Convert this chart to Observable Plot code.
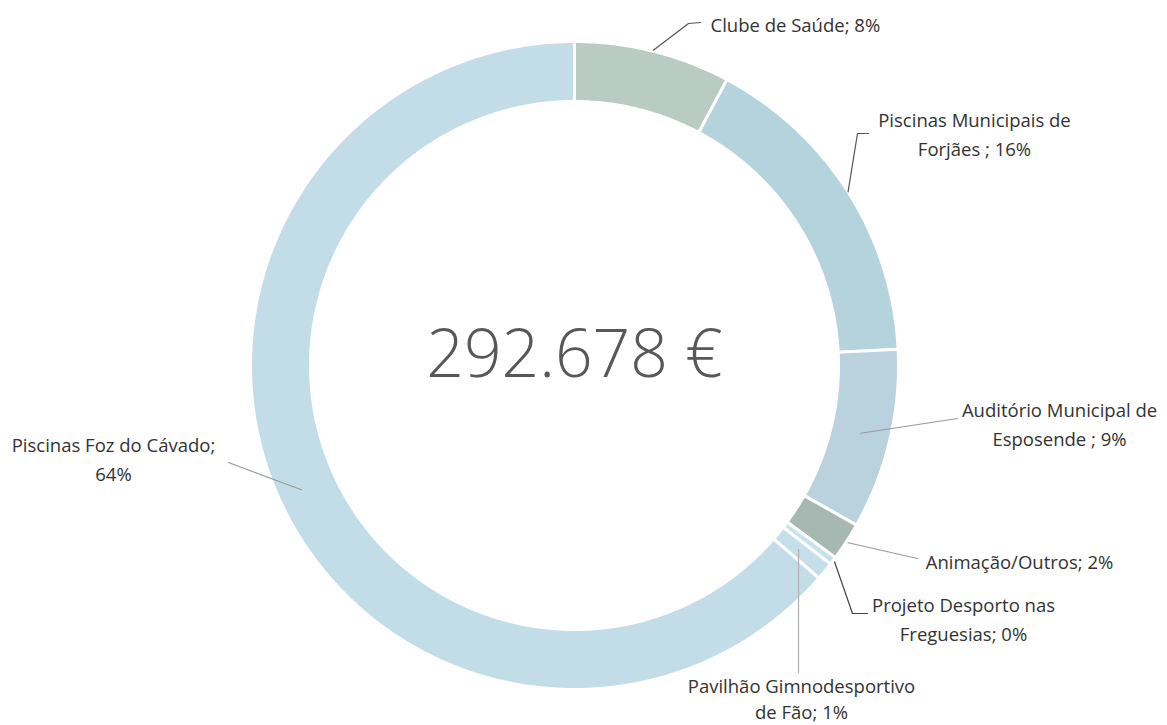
<!DOCTYPE html>
<html>
<head>
<meta charset="utf-8">
<script src="https://cdn.jsdelivr.net/npm/d3@7"></script>
<script src="https://cdn.jsdelivr.net/npm/@observablehq/plot@0.6"></script>
<style>
  html, body { margin: 0; padding: 0; background: #ffffff; }
  #chart svg { display: block; }
</style>
</head>
<body>
<div id="chart"></div>
<script>
// ---- data ----
const categories = [
  "Clube de Saúde",
  "Piscinas Municipais de Forjães",
  "Auditório Municipal de Esposende",
  "Animação/Outros",
  "Projeto Desporto nas Freguesias",
  "Pavilhão Gimnodesportivo de Fão",
  "Piscinas Foz do Cávado"
];
const shares = [7.8, 16.4, 9.0, 1.9, 0.4, 0.9, 63.6]; // percent of total
const labelTexts = [
  "Clube de Saúde; 8%",
  "Piscinas Municipais de\nForjães ; 16%",
  "Auditório Municipal de\nEsposende ; 9%",
  "Animação/Outros; 2%",
  "Projeto Desporto nas\nFreguesias; 0%",
  "Pavilhão Gimnodesportivo\nde Fão; 1%",
  "Piscinas Foz do Cávado;\n64%"
];
const totalLabel = "292.678 €";
const sliceColors = ["#b9ccc4", "#b4d3dc", "#b9d2dd", "#a6b8b1", "#c8e2ec", "#c4dfe9", "#c2dde8"];

// ---- layout (styling / placement, not data) ----
const W = 1167, H = 725;
const CX = 574, CY = 365;          // ring centre in pixels
const R_OUT = 324, R_IN = 264;
const FS = 18.5;
const labelLayout = [
  {x: 710, y: 22, anchor: "start", rStart: 325, path: [[688, 23], [700, 22]], stroke: "#555", lh: 1.55},
  {x: 974, y: 132, anchor: "middle", rStart: 324, path: [[857, 133], [868, 133]], stroke: "#555", lh: 1.55},
  {x: 1059, y: 422, anchor: "middle", rStart: 294, path: [[957, 418]], stroke: "#9a9a9a", lh: 1.55},
  {x: 1019, y: 559, anchor: "middle", rStart: 326, path: [[917, 558]], stroke: "#9a9a9a", lh: 1.55},
  {x: 963, y: 617, anchor: "middle", rStart: 326, path: [[852, 613], [867, 613]], stroke: "#444", lh: 1.55},
  {x: 801, y: 697, anchor: "middle", rStart: 290, path: [[800, 672]], stroke: "#b0b0b0", vertical: true, lh: 1.4},
  {x: 113, y: 457, anchor: "middle", rStart: 300, path: [[228, 462]], stroke: "#9a9a9a", lh: 1.55}
];

// pixel -> data coordinates (1 unit = 1 px, y up, centre at 0,0)
const px = (x) => x - CX;
const py = (y) => CY - y;

// ---- build slice polygons ----
const cum = d3.cumsum(shares);
const slicePts = [];
const leaders = [];
const labels = [];
categories.forEach((cat, i) => {
  const a0 = ((cum[i] - shares[i]) / 100) * 2 * Math.PI;
  const a1 = (cum[i] / 100) * 2 * Math.PI;
  const n = Math.max(4, Math.ceil((a1 - a0) / 0.01));
  const pts = [];
  for (let k = 0; k <= n; k++) {
    const a = a0 + (a1 - a0) * k / n;
    pts.push({cat, x: R_OUT * Math.sin(a), y: R_OUT * Math.cos(a)});
  }
  for (let k = n; k >= 0; k--) {
    const a = a0 + (a1 - a0) * k / n;
    pts.push({cat, x: R_IN * Math.sin(a), y: R_IN * Math.cos(a)});
  }
  pts.push({...pts[0]});
  slicePts.push(...pts);

  const L = labelLayout[i];
  const am = (a0 + a1) / 2;
  const sx = L.rStart * Math.sin(am), sy = L.rStart * Math.cos(am);
  const line = [{id: i, x: sx, y: sy}];
  L.path.forEach(([x, y]) => line.push({id: i, x: L.vertical ? sx : px(x), y: py(y)}));
  leaders.push(...line.map(d => ({...d, stroke: L.stroke})));
  labels.push({x: px(L.x), y: py(L.y), text: labelTexts[i], anchor: L.anchor, lh: L.lh});
});

const textMarks = labels.map(d => Plot.text([d], {
  x: "x", y: "y", text: "text", textAnchor: d.anchor,
  fontSize: FS, fill: "#333", lineHeight: d.lh
}));

const chart = Plot.plot({
  width: W,
  height: H,
  margin: 0,
  x: {domain: [-CX, W - CX], axis: null},
  y: {domain: [CY - H, CY], axis: null},
  color: {domain: categories, range: sliceColors},
  style: {fontFamily: "'Open Sans', sans-serif", background: "white"},
  marks: [
    Plot.line(slicePts, {x: "x", y: "y", z: "cat", fill: "cat", stroke: "white", strokeWidth: 3, curve: "linear"}),
    Plot.line(leaders, {x: "x", y: "y", z: "id", stroke: "stroke", strokeWidth: 1.2, curve: "linear"}),
    ...textMarks,
    Plot.text([{x: 0, y: 0, t: totalLabel}], {x: "x", y: "y", text: "t", fontSize: 66, fontWeight: 300, fill: "#585858", dy: -10})
  ]
});
document.getElementById("chart").appendChild(chart);
</script>
</body>
</html>
